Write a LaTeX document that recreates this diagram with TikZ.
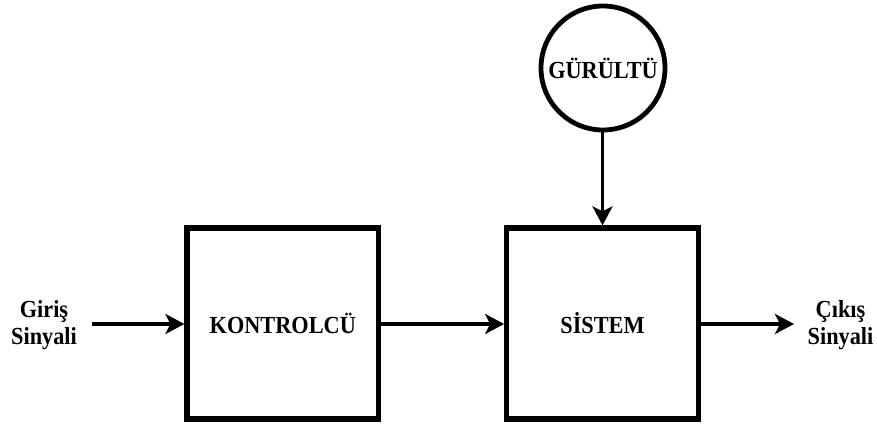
\documentclass[tikz,border=0pt]{standalone}
\usepackage{fontspec}
\setmainfont{Liberation Serif}
\usetikzlibrary{arrows.meta}
\newcommand{\tall}[1]{\scalebox{1}[1.1]{#1}}
\begin{document}
\begin{tikzpicture}[x=1pt,y=-1pt,
  txt/.style={font=\fontsize{22.3}{27}\selectfont\bfseries},
  blk/.style={draw, txt, line width=5.2pt, minimum width=191.5pt, minimum height=191pt, inner sep=0pt},
  noise/.style={draw, txt, circle, line width=4.8pt, minimum size=124pt, inner sep=0pt},
  lbl/.style={txt, align=center, inner sep=0pt},
  conn/.style={line width=3.8pt, -{Stealth[length=19pt,width=20pt,inset=5pt]}}]
\useasboundingbox (0,0) rectangle (877,425);
\node[blk] (ctrl) at (282.75,323.5) {\tall{KONTROLCÜ}};
\node[blk] (sys) at (602.5,323.5) {\tall{SİSTEM}};
\node[noise] (nz) at (603,68) {\tall{GÜRÜLTÜ}};
\node[lbl] (in) at (44,325) {\tall{Giriş}\\\tall{Sinyali}};
\node[lbl] (out) at (840.5,325) {\tall{Çıkış}\\\tall{Sinyali}};
\coordinate (inS) at (92,324);
\coordinate (outE) at (794,324);
\draw[conn] (inS) -- (ctrl.west |- inS);
\draw[conn] (ctrl.east |- inS) -- (sys.west |- inS);
\draw[conn] (sys.east |- inS) -- (outE);
\draw[conn] (nz.south -| sys.north) -- (sys.north);
\end{tikzpicture}
\end{document}
